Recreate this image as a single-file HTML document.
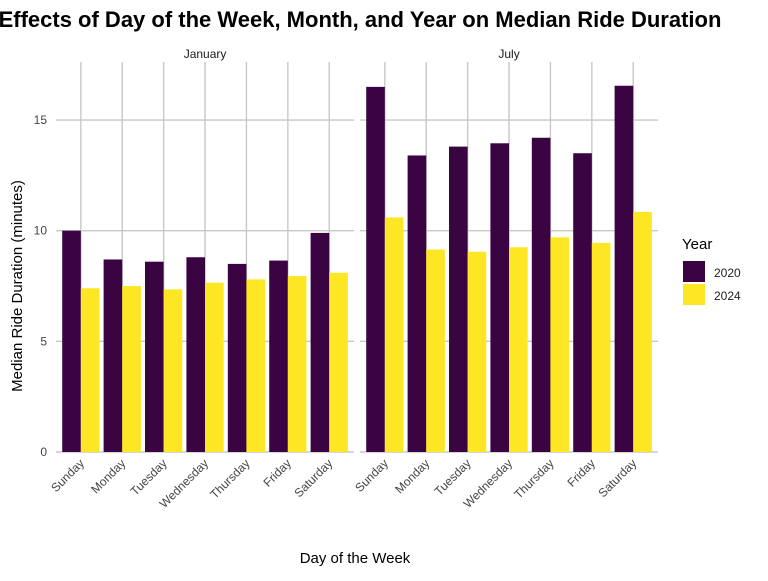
<!DOCTYPE html>
<html><head><meta charset="utf-8"><style>
body{margin:0;background:#fff;font-family:"Liberation Sans",sans-serif;overflow:hidden}
</style></head><body>
<svg id="chart" width="768" height="576" xmlns="http://www.w3.org/2000/svg">
<text x="360" y="27" text-anchor="middle" font-size="22" font-weight="bold" fill="#000">Effects of Day of the Week, Month, and Year on Median Ride Duration</text>
<g id="plot"></g>
<text x="355" y="563" text-anchor="middle" font-size="15" fill="#000">Day of the Week</text>
<text transform="translate(22,286) rotate(-90)" text-anchor="middle" font-size="15" fill="#000">Median Ride Duration (minutes)</text>
<g>
<text x="682" y="249" font-size="15" fill="#000">Year</text>
<rect x="683" y="261" width="22" height="21" fill="#3a0442"/>
<text x="714" y="277" font-size="12" fill="#222">2020</text>
<rect x="683" y="284" width="22" height="21" fill="#fde725"/>
<text x="714" y="300" font-size="12" fill="#222">2024</text>
</g>
</svg>
<script>
const days=["Sunday","Monday","Tuesday","Wednesday","Thursday","Friday","Saturday"];
const months=["January","July"];
const jan2020=[10.0,8.7,8.6,8.8,8.5,8.65,9.9];
const jan2024=[7.4,7.5,7.35,7.65,7.8,7.95,8.1];
const jul2020=[16.5,13.4,13.8,13.95,14.2,13.5,16.55];
const jul2024=[10.6,9.15,9.05,9.25,9.7,9.45,10.85];
const yTicks=[0,5,10,15];
const NS="http://www.w3.org/2000/svg";
const g=document.getElementById("plot");
const step=41.4, plotTop=62, plotBottom=452;
const y=v=>plotBottom-v*22.13;
const panels=[{left:56,name:"january",s:[jan2020,jan2024]},{left:360,name:"july",s:[jul2020,jul2024]}];
const colors=["#3a0442","#fde725"];
function mk(tag,attrs){const e=document.createElementNS(NS,tag);for(const k in attrs)e.setAttribute(k,attrs[k]);g.appendChild(e);return e;}
panels.forEach((p,pi)=>{
  const w=step*(days.length-1)+step*1.2;
  const x=i=>p.left+step*0.6+i*step;
  yTicks.forEach(t=>{
    const l=mk("line",{x1:p.left,x2:p.left+w,y1:y(t),y2:y(t),stroke:"#c8c8c8","stroke-width":1.4});
    
    
  });
  days.forEach((d,i)=>{
    const l=mk("line",{x1:x(i),x2:x(i),y1:plotTop,y2:plotBottom,stroke:"#c8c8c8","stroke-width":1.4});
    
    
  });
  const st=mk("text",{x:p.left+w/2,y:58,"text-anchor":"middle","font-size":12,fill:"#1a1a1a"});
  st.textContent=months[pi];
  
  
  const bw=step*0.45;
  p.s.forEach((ser,si)=>{
    ser.forEach((v,i)=>{
      const bx=x(i)-step*0.45+si*bw;
      const r=mk("rect",{x:bx,y:y(v),width:bw,height:plotBottom-y(v),fill:colors[si]});
      
      
    });
  });
  days.forEach((d,i)=>{
    const t=mk("text",{x:0,y:0,"text-anchor":"end","font-size":12,fill:"#444",transform:`translate(${x(i)+4},${plotBottom+12}) rotate(-45)`});
    t.textContent=d;
    
    
  });
  if(pi===0){
    yTicks.forEach(t=>{
      const tx=mk("text",{x:47,y:y(t)+4,"text-anchor":"end","font-size":12,fill:"#444"});
      tx.textContent=t;
      
      
    });
  }
});
</script>
</body></html>
